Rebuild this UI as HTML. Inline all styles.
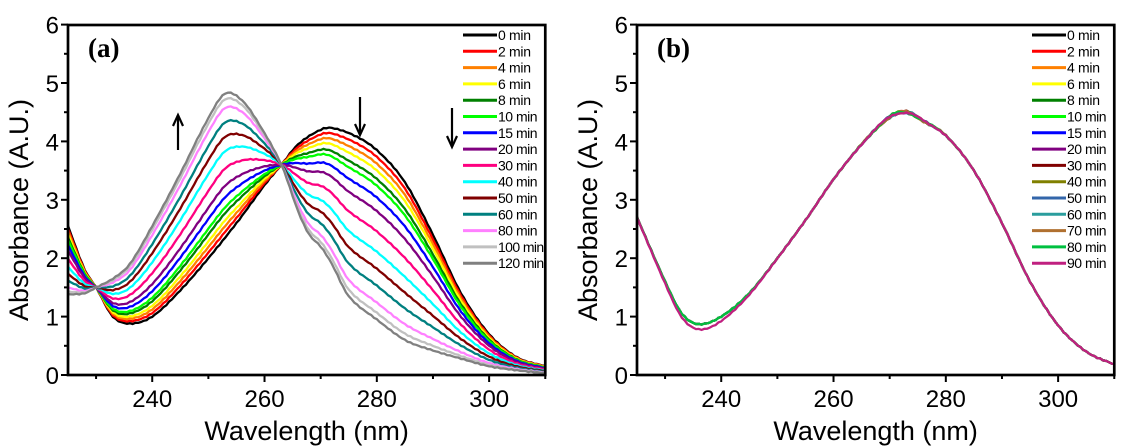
<!DOCTYPE html>
<html><head><meta charset="utf-8"><style>
html,body{margin:0;padding:0;background:#fff;width:1126px;height:446px;overflow:hidden}
svg{display:block}
text{font-family:"Liberation Sans",Arial,sans-serif}
</style></head><body>
<svg id="s" width="1126" height="446" viewBox="0 0 1126 446" xmlns="http://www.w3.org/2000/svg"></svg>
<script>
const S=document.getElementById('s');let h='';
function interp(pts,x){for(let i=0;i<pts.length-1;i++){if(x>=pts[i][0]&&x<=pts[i+1][0]){
 const p0=pts[Math.max(0,i-1)],p1=pts[i],p2=pts[i+1],p3=pts[Math.min(pts.length-1,i+2)];
 const t=(x-p1[0])/(p2[0]-p1[0]);
 const m1=(p2[1]-p0[1])/(p2[0]-p0[0])*(p2[0]-p1[0]),m2=(p3[1]-p1[1])/(p3[0]-p1[0])*(p2[0]-p1[0]);
 const t2=t*t,t3=t2*t;return (2*t3-3*t2+1)*p1[1]+(t3-2*t2+t)*m1+(-2*t3+3*t2)*p2[1]+(t3-t2)*m2;}}return pts[pts.length-1][1];}
const A0=[[225,2.55],[228,1.8],[230,1.5],[233,1.0],[236,0.88],[240,1.0],[245,1.45],[250,2.0],[255,2.6],[260,3.25],[263,3.6],[266,3.95],[270,4.2],[272,4.23],[276,4.1],[280,3.85],[285,3.3],[290,2.4],[295,1.4],[300,0.7],[305,0.3],[310,0.15]];
const A1=[[225,1.38],[228,1.4],[230,1.5],[233,1.65],[236,1.9],[240,2.55],[245,3.45],[250,4.4],[253,4.82],[256,4.7],[259,4.3],[263,3.6],[266,2.8],[268,2.4],[270,2.2],[272,1.9],[275,1.35],[280,0.95],[285,0.6],[290,0.42],[295,0.28],[300,0.15],[305,0.08],[310,0.03]];
const AB=[[225,2.7],[230,1.6],[233,1.05],[236,0.87],[240,1.0],[245,1.4],[250,2.0],[255,2.65],[260,3.35],[265,3.95],[270,4.42],[273,4.5],[276,4.35],[280,4.1],[285,3.5],[290,2.6],[295,1.6],[300,0.85],[305,0.4],[310,0.18]];
function panel(X0,lbl,series,legend){
 const T=25,B=375,xs=v=>X0+(v-225)*5.615,ys=v=>B-v*58.4;
 h+=`<clipPath id="c${X0}"><rect x="${X0}" y="${T}" width="${xs(310)-X0}" height="${B-T}"/></clipPath><g clip-path="url(#c${X0})">`;
 for(const [col,fn] of series){let d='';for(let x=225;x<=310.01;x+=0.5){d+=(d?'L':'M')+xs(x).toFixed(1)+','+ys(fn(x)+Math.sin(x*7.3)*0.008).toFixed(1);}
  h+=`<path d="${d}" fill="none" stroke="${col}" stroke-width="2.3"/>`;}
 h+='</g>';
 h+=`<rect x="${X0}" y="${T}" width="${xs(310)-X0}" height="${B-T}" fill="none" stroke="#000" stroke-width="2.7"/>`;
 for(let v=230;v<=310;v+=10){const big=v%20==0;h+=`<line x1="${xs(v)}" y1="${B}" x2="${xs(v)}" y2="${B+(big?7:4)}" stroke="#000" stroke-width="2"/>`;
  if(big)h+=`<text x="${xs(v)}" y="${B+32}" font-size="24" text-anchor="middle">${v}</text>`;}
 for(let v=0;v<=6;v+=0.5){const big=v%1==0;h+=`<line x1="${X0}" y1="${ys(v)}" x2="${X0-(big?7:4)}" y2="${ys(v)}" stroke="#000" stroke-width="2"/>`;
  if(big)h+=`<text x="${X0-9}" y="${ys(v)+9}" font-size="24" text-anchor="end">${v}</text>`;}
 h+=`<text x="${X0+20}" y="57" font-size="27" font-weight="bold" style="font-family:'Liberation Serif',serif">${lbl}</text>`;
 h+=`<text x="${(X0+xs(310))/2}" y="440" font-size="27" text-anchor="middle">Wavelength (nm)</text>`;
 h+=`<text transform="translate(${X0-40},${(T+B)/2+10}) rotate(-90)" font-size="27" text-anchor="middle">Absorbance (A.U.)</text>`;
 legend.forEach((e,i)=>{const y=35+i*16.3,lx=X0+395;h+=`<line x1="${lx}" y1="${y}" x2="${lx+34}" y2="${y}" stroke="${e[0]}" stroke-width="3"/><text x="${lx+35}" y="${y+5}" font-size="14" textLength="${e[1].length*6.6}">${e[1]}</text>`;});
}
const colA=['#000','#ff0000','#ff8000','#ffff00','#008000','#00ff00','#0000ff','#800080','#ff0080','#00ffff','#800000','#008080','#ff80ff','#c0c0c0','#808080'];
const tA=['0','2','4','6','8','10','15','20','30','40','50','60','80','100','120'];
const fA=[0,0.04,0.08,0.12,0.17,0.21,0.28,0.36,0.48,0.6,0.7,0.8,0.9,0.96,1.0];
panel(68,'(a)',colA.map((c,i)=>[c,x=>(1-fA[i])*interp(A0,x)+fA[i]*interp(A1,x)]),colA.map((c,i)=>[c,tA[i]+' min']));
const colB=['#000','#ff0000','#ff8000','#ffff00','#008000','#00ff00','#0000ff','#800080','#800000','#808000','#3366aa','#2a9d9d','#b07030','#00c040','#c02080'];
const tB=['0','2','4','6','8','10','15','20','30','40','50','60','70','80','90'];
panel(637,'(b)',colB.map((c,i)=>[c,x=>interp(AB,x)+Math.sin(i*1.7+x*0.9)*0.02*Math.exp(-Math.pow((x-272)/6,2))-(i==14?0.09*Math.exp(-Math.pow((x-237)/7,2)):0)]),colB.map((c,i)=>[c,tB[i]+' min']));
function arrow(x,y1,y2){const d=y2>y1?1:-1;h+=`<line x1="${x}" y1="${y1}" x2="${x}" y2="${y2}" stroke="#000" stroke-width="2.2"/><path d="M${x-5},${y2-d*11} L${x},${y2} L${x+5},${y2-d*11}" fill="none" stroke="#000" stroke-width="2.2"/>`;}
arrow(178,150,115);arrow(360,97,135);arrow(452,108,147);
S.innerHTML=h;
</script>
</body></html>
